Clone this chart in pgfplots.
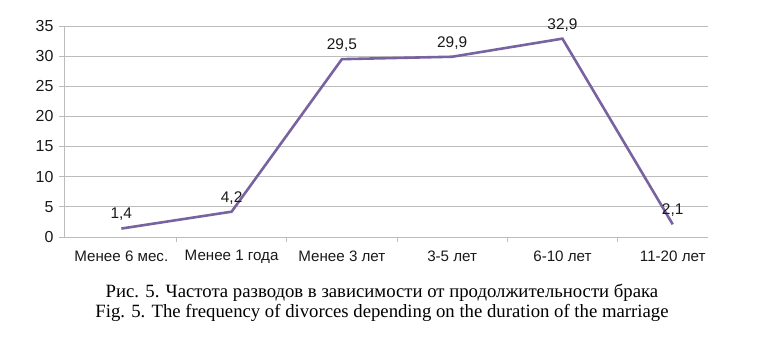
\documentclass[border=0pt]{standalone}
\usepackage{pgfplots}
\pgfplotsset{compat=1.18}
\usepackage{fontspec}
\setmainfont{Liberation Sans}
\newfontfamily\capfont{Liberation Serif}
\definecolor{linec}{RGB}{120,98,160}
\definecolor{gridc}{RGB}{188,188,188}
\definecolor{txt}{RGB}{25,25,25}
\begin{document}
\begin{tikzpicture}
\useasboundingbox (0,0) rectangle (764bp,352bp);
\begin{axis}[
  at={(64bp,115bp)}, anchor=south west,
  scale only axis, width=644bp, height=211bp,
  xmin=-0.52, xmax=5.32, ymin=0, ymax=35,
  xtick={0,1,2,3,4,5},
  xticklabels={Менее 6 мес., Менее 1 года, Менее 3 лет, 3-5 лет, 6-10 лет, 11-20 лет},
  minor xtick={0.5,1.5,2.5,3.5,4.5},
  ytick={0,5,...,35},
  ymajorgrids, grid style={gridc, line width=0.8pt},
  axis x line*=bottom, axis y line*=left,
  axis line style={gridc, line width=0.8pt, -},
  major x tick style={draw=none},
  minor x tick style={gridc, line width=0.8pt},
  minor tick length=5bp,
  major y tick style={gridc, line width=0.8pt},
  major tick length=5bp,
  tick align=outside,
  tick label style={font=\fontsize{16}{18}\selectfont, text=txt},
  yticklabel style={xshift=-2bp},
  xticklabel style={font=\fontsize{15.2}{18}\selectfont, yshift=-5bp},
  /pgf/number format/assume math mode=true,
  clip=false,
]
\addplot[linec, line width=2.6pt, mark=none,
  nodes near coords, point meta=explicit symbolic,
  every node near coord/.append style={font=\fontsize{15.5}{18}\selectfont, text=txt, anchor=south, yshift=3bp}]
  coordinates {(0,1.4) [1{,}4] (1,4.2) [4{,}2] (2,29.5) [29{,}5] (3,29.9) [29{,}9] (4,32.9) [32{,}9] (5,2.1) [2{,}1]};
\end{axis}
\node[font=\capfont\fontsize{18.8}{21}\selectfont, text=black] at (382bp,59bp) {Рис. 5. Частота разводов в зависимости от продолжительности брака};
\node[font=\capfont\fontsize{18.8}{21}\selectfont, text=black] at (382bp,39bp) {Fig. 5. The frequency of divorces depending on the duration of the marriage};
\end{tikzpicture}
\end{document}
